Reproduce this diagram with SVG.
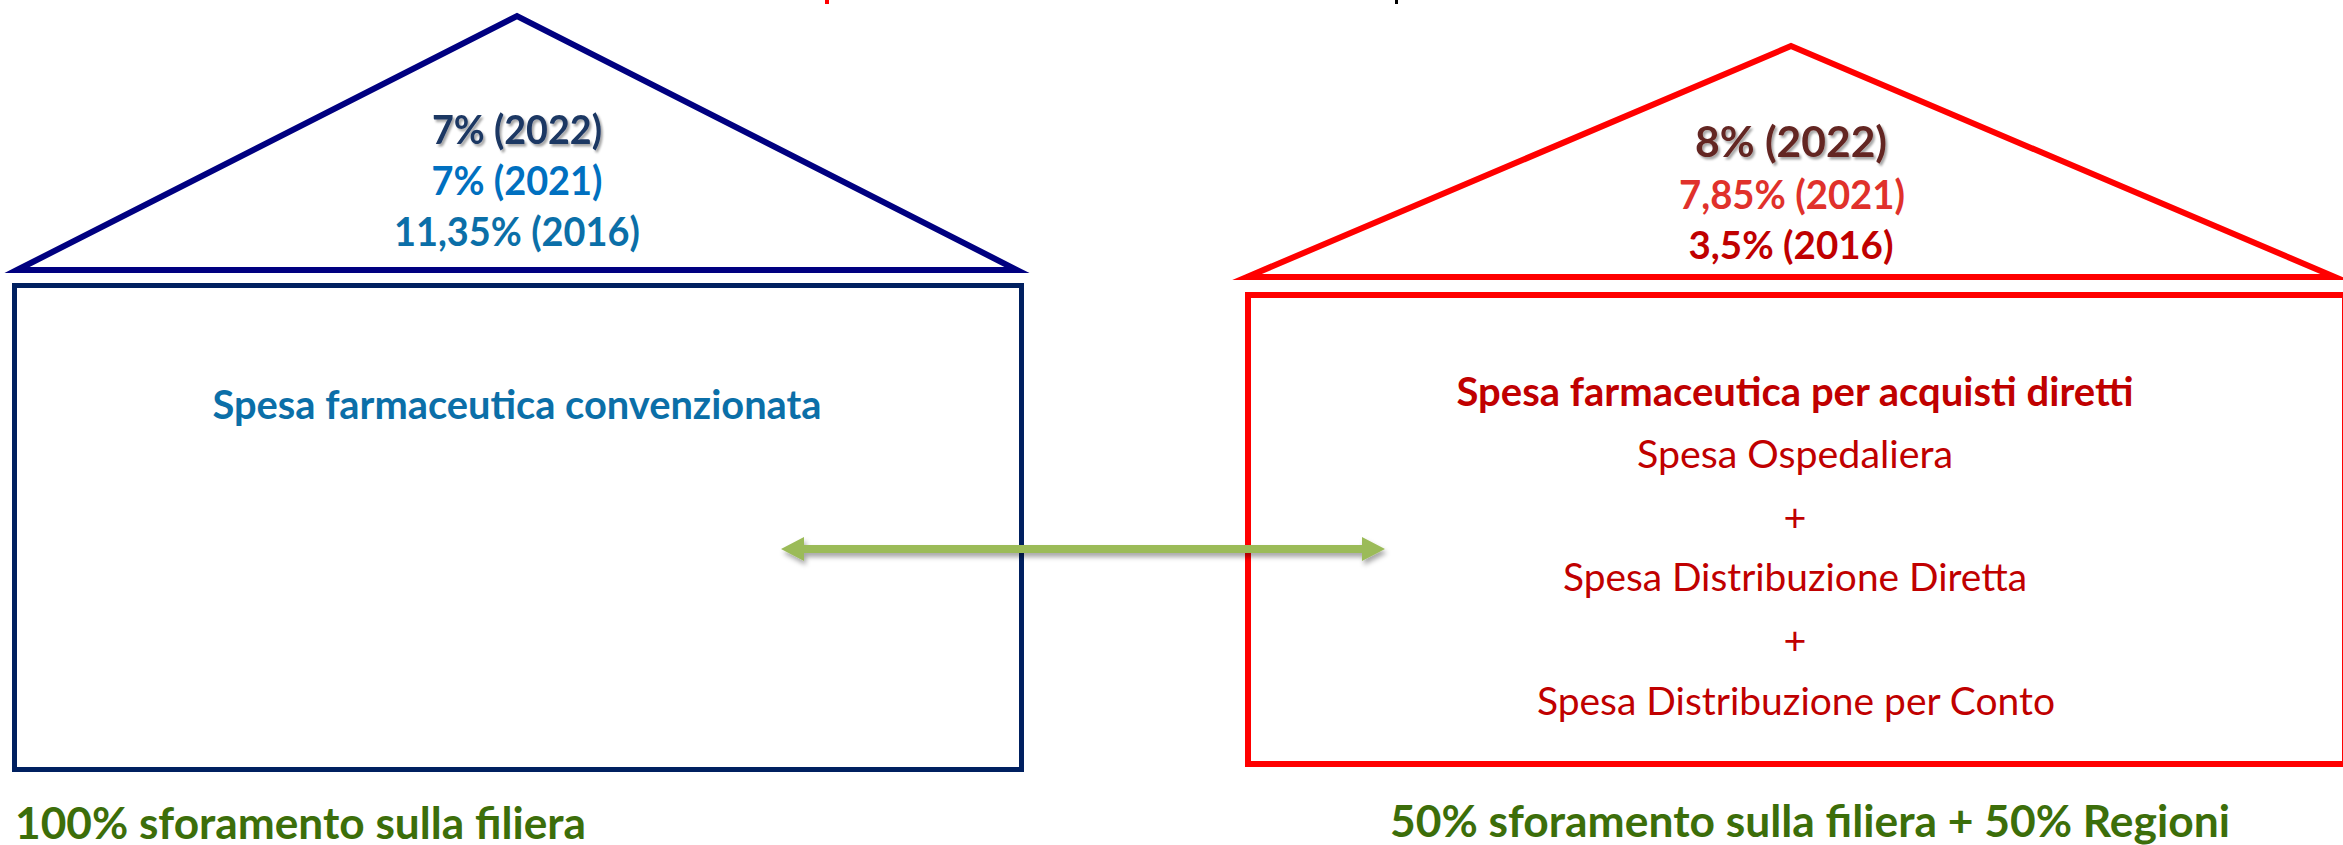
<svg xmlns="http://www.w3.org/2000/svg" width="2343" height="845" viewBox="0 0 2343 845">
  <defs>
    <filter id="txtShadow" x="-10%" y="-30%" width="130%" height="180%">
      <feDropShadow dx="2" dy="2.5" stdDeviation="1.2" flood-color="#000" flood-opacity="0.35"/>
    </filter>
    <filter id="arrowShadow" x="-5%" y="-100%" width="110%" height="300%">
      <feDropShadow dx="2" dy="4" stdDeviation="2.5" flood-color="#000" flood-opacity="0.35"/>
    </filter>
  </defs>
  <style>
    text { font-family: Lato, "Liberation Sans", sans-serif; }
    .b { font-weight: 700; }
    .c { text-anchor: middle; }
    .roofL { fill: none; stroke: #000080; stroke-width: 6; stroke-linejoin: miter; stroke-miterlimit: 10; }
    .boxL { fill: none; stroke: #002060; stroke-width: 5; }
    .roofR { fill: none; stroke: #FF0000; stroke-width: 6; stroke-linejoin: miter; stroke-miterlimit: 10; }
    .boxR { fill: none; stroke: #FF0000; stroke-width: 6; }
    .red { fill: #C00000; }
    .green { fill: #3C6E0A; }
  </style>
  <rect width="2343" height="845" fill="#FFFFFF"/>

  <!-- cut-off fragments at top edge -->
  <g id="top-fragments">
    <rect x="825" y="0" width="4" height="4" fill="#FF0000"/>
    <rect x="1395" y="0" width="3" height="4" fill="#000000"/>
  </g>

  <g id="roof-left">
    <polygon class="roofL" points="17,270 517,16 1017,270"/>
    <text class="b c" x="517" y="144" font-size="39.5" fill="#1F3864" filter="url(#txtShadow)" textLength="170" lengthAdjust="spacingAndGlyphs">7% (2022)</text>
    <text class="b c" x="517" y="195" font-size="39.5" fill="#0070C0" textLength="171" lengthAdjust="spacingAndGlyphs">7% (2021)</text>
    <text class="b c" x="517" y="246" font-size="39.5" fill="#0B6FA8" textLength="246" lengthAdjust="spacingAndGlyphs">11,35% (2016)</text>
  </g>

  <g id="box-left">
    <rect class="boxL" x="14.5" y="285.5" width="1007" height="484"/>
    <text class="b c" x="517" y="419" font-size="39.5" fill="#0B6FA8" textLength="609" lengthAdjust="spacingAndGlyphs">Spesa farmaceutica convenzionata</text>
  </g>

  <g id="roof-right">
    <polygon class="roofR" points="1247,277 1791,46 2335,277"/>
    <text class="b c" x="1791" y="157" font-size="42" fill="#632523" filter="url(#txtShadow)" textLength="192" lengthAdjust="spacingAndGlyphs">8% (2022)</text>
    <text class="b c" x="1792" y="209" font-size="39.5" fill="#E0312B" textLength="226" lengthAdjust="spacingAndGlyphs">7,85% (2021)</text>
    <text class="b c red" x="1791" y="259" font-size="39" textLength="205" lengthAdjust="spacingAndGlyphs">3,5% (2016)</text>
  </g>

  <g id="box-right">
    <rect class="boxR" x="1248" y="295" width="1097" height="469"/>
    <text class="b c red" x="1795" y="406" font-size="39.5" textLength="677" lengthAdjust="spacingAndGlyphs">Spesa farmaceutica per acquisti diretti</text>
    <text class="c red" x="1795" y="468" font-size="39.5" textLength="316" lengthAdjust="spacingAndGlyphs">Spesa Ospedaliera</text>
    <text class="c red" x="1795" y="531" font-size="39.5">+</text>
    <text class="c red" x="1795" y="591" font-size="39.5" textLength="464" lengthAdjust="spacingAndGlyphs">Spesa Distribuzione Diretta</text>
    <text class="c red" x="1795" y="654" font-size="39.5">+</text>
    <text class="c red" x="1796" y="715" font-size="39.5" textLength="518" lengthAdjust="spacingAndGlyphs">Spesa Distribuzione per Conto</text>
  </g>

  <g id="label-left">
    <text class="b green" x="15" y="839" font-size="43.5" textLength="571" lengthAdjust="spacingAndGlyphs">100% sforamento sulla filiera</text>
  </g>
  <g id="label-right">
    <text class="b green" x="1390" y="837" font-size="43.5" textLength="840" lengthAdjust="spacingAndGlyphs">50% sforamento sulla filiera + 50% Regioni</text>
  </g>

  <g id="connectors">
    <polygon filter="url(#arrowShadow)" fill="#9BBB59" points="781,549 804,537 804,545 1362,545 1362,537 1385,549 1362,561 1362,553 804,553 804,561"/>
  </g>
</svg>
